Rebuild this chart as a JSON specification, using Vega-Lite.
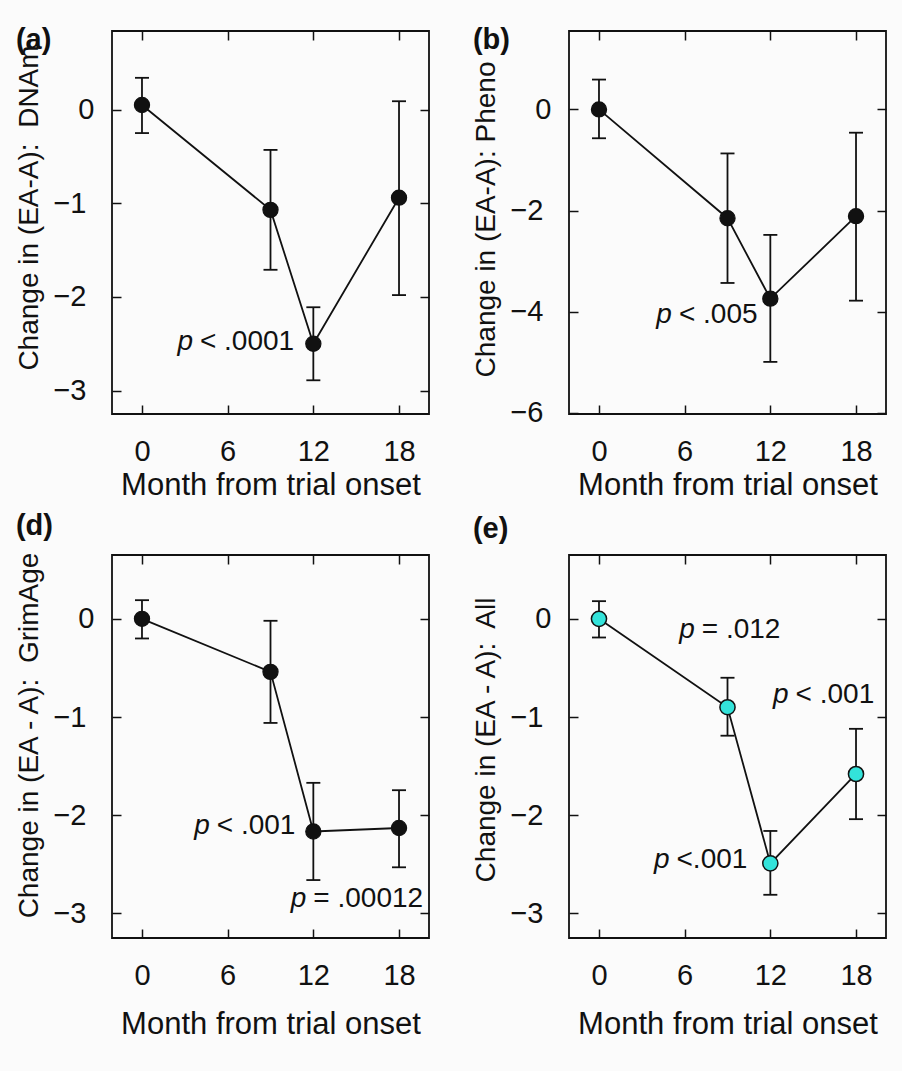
{
  "$schema": "https://vega.github.io/schema/vega-lite/v6.json",
  "background": "#fbfbfb",
  "padding": {"left": 15, "top": 25, "right": 16, "bottom": 32},
  "datasets": {
    "pts": [
      {"panel": "a", "month": 0, "value": 0.05, "lo": -0.25, "hi": 0.34},
      {"panel": "a", "month": 9, "value": -1.07, "lo": -1.71, "hi": -0.43},
      {"panel": "a", "month": 12, "value": -2.5, "lo": -2.89, "hi": -2.11},
      {"panel": "a", "month": 18, "value": -0.94, "lo": -1.98, "hi": 0.09},
      {"panel": "b", "month": 0, "value": 0.0, "lo": -0.57, "hi": 0.59},
      {"panel": "b", "month": 9, "value": -2.15, "lo": -3.43, "hi": -0.87},
      {"panel": "b", "month": 12, "value": -3.74, "lo": -4.99, "hi": -2.48},
      {"panel": "b", "month": 18, "value": -2.11, "lo": -3.78, "hi": -0.46},
      {"panel": "d", "month": 0, "value": 0.0, "lo": -0.2, "hi": 0.19},
      {"panel": "d", "month": 9, "value": -0.54, "lo": -1.06, "hi": -0.02},
      {"panel": "d", "month": 12, "value": -2.165, "lo": -2.66, "hi": -1.67},
      {"panel": "d", "month": 18, "value": -2.13, "lo": -2.53, "hi": -1.745},
      {"panel": "e", "month": 0, "value": 0.0, "lo": -0.19, "hi": 0.18},
      {"panel": "e", "month": 9, "value": -0.9, "lo": -1.19, "hi": -0.6},
      {"panel": "e", "month": 12, "value": -2.49, "lo": -2.81, "hi": -2.16},
      {"panel": "e", "month": 18, "value": -1.58, "lo": -2.04, "hi": -1.12}
    ],
    "ann": [
      {"panel": "a", "month": 4.06, "value": -2.48, "rest": "< .0001"},
      {"panel": "b", "month": 5.6, "value": -4.07, "rest": "< .005"},
      {"panel": "d", "month": 5.24, "value": -2.11, "rest": "< .001"},
      {"panel": "d", "month": 12.0, "value": -2.85, "rest": "= .00012"},
      {"panel": "e", "month": 7.2, "value": -0.11, "rest": "= .012"},
      {"panel": "e", "month": 13.77, "value": -0.78, "rest": "< .001"},
      {"panel": "e", "month": 5.43, "value": -2.46, "rest": "<.001"}
    ]
  },
  "columns": 2,
  "spacing": {"row": 9, "column": 41},
  "concat": [
    {
      "title": {"text": "(a)", "offset": -25},
      "width": 317, "height": 383,
      "layer": [
        {"data": {"name": "pts"}, "transform": [{"filter": "datum.panel === 'a'"}],
         "mark": {"type": "rule", "color": "#111", "strokeWidth": 1.8},
         "encoding": {
           "x": {"field": "month", "type": "quantitative", "scale": {"domain": [-2.1, 20.1], "nice": false, "zero": false},
                 "axis": {"orient": "bottom", "values": [0, 6, 12, 18], "title": "Month from trial onset", "labelPadding": 32, "titlePadding": 4}},
           "y": {"field": "lo", "type": "quantitative", "scale": {"domain": [-3.25, 0.84], "nice": false, "zero": false},
                 "axis": {"orient": "left", "values": [0, -1, -2, -3], "format": "d", "labelPadding": {"condition": {"test": "datum.value < 0", "value": 35}, "value": 27}, "title": "Change in (EA-A):\u00a0 DNAm", "titlePadding": 9, "titleY": 176.5}},
           "y2": {"field": "hi"}
         }},
        {"data": {"name": "pts"}, "transform": [{"filter": "datum.panel === 'a'"}],
         "mark": {"type": "tick", "orient": "horizontal", "size": 14, "thickness": 1.8, "color": "#111", "opacity": 1},
         "encoding": {
           "x": {"field": "month", "type": "quantitative", "scale": {"domain": [-2.1, 20.1], "nice": false, "zero": false},
                 "axis": {"orient": "top", "values": [0, 6, 12, 18], "labels": false, "title": null}},
           "y": {"field": "lo", "type": "quantitative", "scale": {"domain": [-3.25, 0.84], "nice": false, "zero": false},
                 "axis": {"orient": "right", "values": [0, -1, -2, -3], "labels": false, "title": null}}
         }},
        {"data": {"name": "pts"}, "transform": [{"filter": "datum.panel === 'a'"}],
         "mark": {"type": "tick", "orient": "horizontal", "size": 14, "thickness": 1.8, "color": "#111", "opacity": 1},
         "encoding": {
           "x": {"field": "month", "type": "quantitative", "scale": {"domain": [-2.1, 20.1], "nice": false, "zero": false}, "axis": null},
           "y": {"field": "hi", "type": "quantitative", "scale": {"domain": [-3.25, 0.84], "nice": false, "zero": false}, "axis": null}
         }},
        {"data": {"name": "pts"}, "transform": [{"filter": "datum.panel === 'a'"}],
         "mark": {"type": "line", "color": "#111", "strokeWidth": 1.8},
         "encoding": {
           "x": {"field": "month", "type": "quantitative", "scale": {"domain": [-2.1, 20.1], "nice": false, "zero": false}, "axis": null},
           "y": {"field": "value", "type": "quantitative", "scale": {"domain": [-3.25, 0.84], "nice": false, "zero": false}, "axis": null}
         }},
        {"data": {"name": "pts"}, "transform": [{"filter": "datum.panel === 'a'"}],
         "mark": {"type": "point", "filled": true, "size": 230, "fill": "#111", "stroke": "#111", "strokeWidth": 1.2, "opacity": 1},
         "encoding": {
           "x": {"field": "month", "type": "quantitative", "scale": {"domain": [-2.1, 20.1], "nice": false, "zero": false}, "axis": null},
           "y": {"field": "value", "type": "quantitative", "scale": {"domain": [-3.25, 0.84], "nice": false, "zero": false}, "axis": null}
         }},
        {"data": {"name": "ann"}, "transform": [{"filter": "datum.panel === 'a'"}],
         "mark": {"type": "text", "text": "p", "fontStyle": "italic", "align": "right", "baseline": "middle", "dx": -7, "font": "Liberation Sans", "fontSize": 28, "color": "#111"},
         "encoding": {
           "x": {"field": "month", "type": "quantitative", "scale": {"domain": [-2.1, 20.1], "nice": false, "zero": false}, "axis": null},
           "y": {"field": "value", "type": "quantitative", "scale": {"domain": [-3.25, 0.84], "nice": false, "zero": false}, "axis": null}
         }},
        {"data": {"name": "ann"}, "transform": [{"filter": "datum.panel === 'a'"}],
         "mark": {"type": "text", "align": "left", "baseline": "middle", "font": "Liberation Sans", "fontSize": 28, "color": "#111"},
         "encoding": {
           "x": {"field": "month", "type": "quantitative", "scale": {"domain": [-2.1, 20.1], "nice": false, "zero": false}, "axis": null},
           "y": {"field": "value", "type": "quantitative", "scale": {"domain": [-3.25, 0.84], "nice": false, "zero": false}, "axis": null},
           "text": {"field": "rest"}
         }}
      ],
      "resolve": {"axis": {"x": "independent", "y": "independent"}}
    },
    {
      "title": {"text": "(b)", "offset": -25},
      "width": 317, "height": 383,
      "layer": [
        {"data": {"name": "pts"}, "transform": [{"filter": "datum.panel === 'b'"}],
         "mark": {"type": "rule", "color": "#111", "strokeWidth": 1.8},
         "encoding": {
           "x": {"field": "month", "type": "quantitative", "scale": {"domain": [-2.1, 20.1], "nice": false, "zero": false},
                 "axis": {"orient": "bottom", "values": [0, 6, 12, 18], "title": "Month from trial onset", "labelPadding": 32, "titlePadding": 4}},
           "y": {"field": "lo", "type": "quantitative", "scale": {"domain": [-6.02, 1.55], "nice": false, "zero": false},
                 "axis": {"orient": "left", "values": [0, -2, -4, -6], "format": "d", "labelPadding": {"condition": {"test": "datum.value < 0", "value": 35}, "value": 27}, "title": "Change in (EA-A): Pheno", "titlePadding": 9, "titleY": 188}},
           "y2": {"field": "hi"}
         }},
        {"data": {"name": "pts"}, "transform": [{"filter": "datum.panel === 'b'"}],
         "mark": {"type": "tick", "orient": "horizontal", "size": 14, "thickness": 1.8, "color": "#111", "opacity": 1},
         "encoding": {
           "x": {"field": "month", "type": "quantitative", "scale": {"domain": [-2.1, 20.1], "nice": false, "zero": false},
                 "axis": {"orient": "top", "values": [0, 6, 12, 18], "labels": false, "title": null}},
           "y": {"field": "lo", "type": "quantitative", "scale": {"domain": [-6.02, 1.55], "nice": false, "zero": false},
                 "axis": {"orient": "right", "values": [0, -2, -4, -6], "labels": false, "title": null}}
         }},
        {"data": {"name": "pts"}, "transform": [{"filter": "datum.panel === 'b'"}],
         "mark": {"type": "tick", "orient": "horizontal", "size": 14, "thickness": 1.8, "color": "#111", "opacity": 1},
         "encoding": {
           "x": {"field": "month", "type": "quantitative", "scale": {"domain": [-2.1, 20.1], "nice": false, "zero": false}, "axis": null},
           "y": {"field": "hi", "type": "quantitative", "scale": {"domain": [-6.02, 1.55], "nice": false, "zero": false}, "axis": null}
         }},
        {"data": {"name": "pts"}, "transform": [{"filter": "datum.panel === 'b'"}],
         "mark": {"type": "line", "color": "#111", "strokeWidth": 1.8},
         "encoding": {
           "x": {"field": "month", "type": "quantitative", "scale": {"domain": [-2.1, 20.1], "nice": false, "zero": false}, "axis": null},
           "y": {"field": "value", "type": "quantitative", "scale": {"domain": [-6.02, 1.55], "nice": false, "zero": false}, "axis": null}
         }},
        {"data": {"name": "pts"}, "transform": [{"filter": "datum.panel === 'b'"}],
         "mark": {"type": "point", "filled": true, "size": 230, "fill": "#111", "stroke": "#111", "strokeWidth": 1.2, "opacity": 1},
         "encoding": {
           "x": {"field": "month", "type": "quantitative", "scale": {"domain": [-2.1, 20.1], "nice": false, "zero": false}, "axis": null},
           "y": {"field": "value", "type": "quantitative", "scale": {"domain": [-6.02, 1.55], "nice": false, "zero": false}, "axis": null}
         }},
        {"data": {"name": "ann"}, "transform": [{"filter": "datum.panel === 'b'"}],
         "mark": {"type": "text", "text": "p", "fontStyle": "italic", "align": "right", "baseline": "middle", "dx": -7, "font": "Liberation Sans", "fontSize": 28, "color": "#111"},
         "encoding": {
           "x": {"field": "month", "type": "quantitative", "scale": {"domain": [-2.1, 20.1], "nice": false, "zero": false}, "axis": null},
           "y": {"field": "value", "type": "quantitative", "scale": {"domain": [-6.02, 1.55], "nice": false, "zero": false}, "axis": null}
         }},
        {"data": {"name": "ann"}, "transform": [{"filter": "datum.panel === 'b'"}],
         "mark": {"type": "text", "align": "left", "baseline": "middle", "font": "Liberation Sans", "fontSize": 28, "color": "#111"},
         "encoding": {
           "x": {"field": "month", "type": "quantitative", "scale": {"domain": [-2.1, 20.1], "nice": false, "zero": false}, "axis": null},
           "y": {"field": "value", "type": "quantitative", "scale": {"domain": [-6.02, 1.55], "nice": false, "zero": false}, "axis": null},
           "text": {"field": "rest"}
         }}
      ],
      "resolve": {"axis": {"x": "independent", "y": "independent"}}
    },
    {
      "title": {"text": "(d)", "offset": 10},
      "width": 317, "height": 383,
      "layer": [
        {"data": {"name": "pts"}, "transform": [{"filter": "datum.panel === 'd'"}],
         "mark": {"type": "rule", "color": "#111", "strokeWidth": 1.8},
         "encoding": {
           "x": {"field": "month", "type": "quantitative", "scale": {"domain": [-2.1, 20.1], "nice": false, "zero": false},
                 "axis": {"orient": "bottom", "values": [0, 6, 12, 18], "title": "Month from trial onset", "labelPadding": 32, "titlePadding": 19}},
           "y": {"field": "lo", "type": "quantitative", "scale": {"domain": [-3.25, 0.65], "nice": false, "zero": false},
                 "axis": {"orient": "left", "values": [0, -1, -2, -3], "format": "d", "labelPadding": {"condition": {"test": "datum.value < 0", "value": 35}, "value": 27}, "title": "Change in (EA - A):\u00a0 GrimAge", "titlePadding": 9, "titleY": 180}},
           "y2": {"field": "hi"}
         }},
        {"data": {"name": "pts"}, "transform": [{"filter": "datum.panel === 'd'"}],
         "mark": {"type": "tick", "orient": "horizontal", "size": 14, "thickness": 1.8, "color": "#111", "opacity": 1},
         "encoding": {
           "x": {"field": "month", "type": "quantitative", "scale": {"domain": [-2.1, 20.1], "nice": false, "zero": false},
                 "axis": {"orient": "top", "values": [0, 6, 12, 18], "labels": false, "title": null}},
           "y": {"field": "lo", "type": "quantitative", "scale": {"domain": [-3.25, 0.65], "nice": false, "zero": false},
                 "axis": {"orient": "right", "values": [0, -1, -2, -3], "labels": false, "title": null}}
         }},
        {"data": {"name": "pts"}, "transform": [{"filter": "datum.panel === 'd'"}],
         "mark": {"type": "tick", "orient": "horizontal", "size": 14, "thickness": 1.8, "color": "#111", "opacity": 1},
         "encoding": {
           "x": {"field": "month", "type": "quantitative", "scale": {"domain": [-2.1, 20.1], "nice": false, "zero": false}, "axis": null},
           "y": {"field": "hi", "type": "quantitative", "scale": {"domain": [-3.25, 0.65], "nice": false, "zero": false}, "axis": null}
         }},
        {"data": {"name": "pts"}, "transform": [{"filter": "datum.panel === 'd'"}],
         "mark": {"type": "line", "color": "#111", "strokeWidth": 1.8},
         "encoding": {
           "x": {"field": "month", "type": "quantitative", "scale": {"domain": [-2.1, 20.1], "nice": false, "zero": false}, "axis": null},
           "y": {"field": "value", "type": "quantitative", "scale": {"domain": [-3.25, 0.65], "nice": false, "zero": false}, "axis": null}
         }},
        {"data": {"name": "pts"}, "transform": [{"filter": "datum.panel === 'd'"}],
         "mark": {"type": "point", "filled": true, "size": 230, "fill": "#111", "stroke": "#111", "strokeWidth": 1.2, "opacity": 1},
         "encoding": {
           "x": {"field": "month", "type": "quantitative", "scale": {"domain": [-2.1, 20.1], "nice": false, "zero": false}, "axis": null},
           "y": {"field": "value", "type": "quantitative", "scale": {"domain": [-3.25, 0.65], "nice": false, "zero": false}, "axis": null}
         }},
        {"data": {"name": "ann"}, "transform": [{"filter": "datum.panel === 'd'"}],
         "mark": {"type": "text", "text": "p", "fontStyle": "italic", "align": "right", "baseline": "middle", "dx": -7, "font": "Liberation Sans", "fontSize": 28, "color": "#111"},
         "encoding": {
           "x": {"field": "month", "type": "quantitative", "scale": {"domain": [-2.1, 20.1], "nice": false, "zero": false}, "axis": null},
           "y": {"field": "value", "type": "quantitative", "scale": {"domain": [-3.25, 0.65], "nice": false, "zero": false}, "axis": null}
         }},
        {"data": {"name": "ann"}, "transform": [{"filter": "datum.panel === 'd'"}],
         "mark": {"type": "text", "align": "left", "baseline": "middle", "font": "Liberation Sans", "fontSize": 28, "color": "#111"},
         "encoding": {
           "x": {"field": "month", "type": "quantitative", "scale": {"domain": [-2.1, 20.1], "nice": false, "zero": false}, "axis": null},
           "y": {"field": "value", "type": "quantitative", "scale": {"domain": [-3.25, 0.65], "nice": false, "zero": false}, "axis": null},
           "text": {"field": "rest"}
         }}
      ],
      "resolve": {"axis": {"x": "independent", "y": "independent"}}
    },
    {
      "title": {"text": "(e)", "offset": 10},
      "width": 317, "height": 383,
      "layer": [
        {"data": {"name": "pts"}, "transform": [{"filter": "datum.panel === 'e'"}],
         "mark": {"type": "rule", "color": "#111", "strokeWidth": 1.8},
         "encoding": {
           "x": {"field": "month", "type": "quantitative", "scale": {"domain": [-2.1, 20.1], "nice": false, "zero": false},
                 "axis": {"orient": "bottom", "values": [0, 6, 12, 18], "title": "Month from trial onset", "labelPadding": 32, "titlePadding": 19}},
           "y": {"field": "lo", "type": "quantitative", "scale": {"domain": [-3.25, 0.65], "nice": false, "zero": false},
                 "axis": {"orient": "left", "values": [0, -1, -2, -3], "format": "d", "labelPadding": {"condition": {"test": "datum.value < 0", "value": 35}, "value": 27}, "title": "Change in (EA - A):\u00a0 All", "titlePadding": 9, "titleY": 184.5}},
           "y2": {"field": "hi"}
         }},
        {"data": {"name": "pts"}, "transform": [{"filter": "datum.panel === 'e'"}],
         "mark": {"type": "tick", "orient": "horizontal", "size": 14, "thickness": 1.8, "color": "#111", "opacity": 1},
         "encoding": {
           "x": {"field": "month", "type": "quantitative", "scale": {"domain": [-2.1, 20.1], "nice": false, "zero": false},
                 "axis": {"orient": "top", "values": [0, 6, 12, 18], "labels": false, "title": null}},
           "y": {"field": "lo", "type": "quantitative", "scale": {"domain": [-3.25, 0.65], "nice": false, "zero": false},
                 "axis": {"orient": "right", "values": [0, -1, -2, -3], "labels": false, "title": null}}
         }},
        {"data": {"name": "pts"}, "transform": [{"filter": "datum.panel === 'e'"}],
         "mark": {"type": "tick", "orient": "horizontal", "size": 14, "thickness": 1.8, "color": "#111", "opacity": 1},
         "encoding": {
           "x": {"field": "month", "type": "quantitative", "scale": {"domain": [-2.1, 20.1], "nice": false, "zero": false}, "axis": null},
           "y": {"field": "hi", "type": "quantitative", "scale": {"domain": [-3.25, 0.65], "nice": false, "zero": false}, "axis": null}
         }},
        {"data": {"name": "pts"}, "transform": [{"filter": "datum.panel === 'e'"}],
         "mark": {"type": "line", "color": "#111", "strokeWidth": 1.8},
         "encoding": {
           "x": {"field": "month", "type": "quantitative", "scale": {"domain": [-2.1, 20.1], "nice": false, "zero": false}, "axis": null},
           "y": {"field": "value", "type": "quantitative", "scale": {"domain": [-3.25, 0.65], "nice": false, "zero": false}, "axis": null}
         }},
        {"data": {"name": "pts"}, "transform": [{"filter": "datum.panel === 'e'"}],
         "mark": {"type": "point", "filled": true, "size": 230, "fill": "#33e3da", "stroke": "#111", "strokeWidth": 1.5, "opacity": 1},
         "encoding": {
           "x": {"field": "month", "type": "quantitative", "scale": {"domain": [-2.1, 20.1], "nice": false, "zero": false}, "axis": null},
           "y": {"field": "value", "type": "quantitative", "scale": {"domain": [-3.25, 0.65], "nice": false, "zero": false}, "axis": null}
         }},
        {"data": {"name": "ann"}, "transform": [{"filter": "datum.panel === 'e'"}],
         "mark": {"type": "text", "text": "p", "fontStyle": "italic", "align": "right", "baseline": "middle", "dx": -7, "font": "Liberation Sans", "fontSize": 28, "color": "#111"},
         "encoding": {
           "x": {"field": "month", "type": "quantitative", "scale": {"domain": [-2.1, 20.1], "nice": false, "zero": false}, "axis": null},
           "y": {"field": "value", "type": "quantitative", "scale": {"domain": [-3.25, 0.65], "nice": false, "zero": false}, "axis": null}
         }},
        {"data": {"name": "ann"}, "transform": [{"filter": "datum.panel === 'e'"}],
         "mark": {"type": "text", "align": "left", "baseline": "middle", "font": "Liberation Sans", "fontSize": 28, "color": "#111"},
         "encoding": {
           "x": {"field": "month", "type": "quantitative", "scale": {"domain": [-2.1, 20.1], "nice": false, "zero": false}, "axis": null},
           "y": {"field": "value", "type": "quantitative", "scale": {"domain": [-3.25, 0.65], "nice": false, "zero": false}, "axis": null},
           "text": {"field": "rest"}
         }}
      ],
      "resolve": {"axis": {"x": "independent", "y": "independent"}}
    }
  ],
  "config": {
    "view": {"stroke": "#111", "strokeWidth": 1.8},
    "axis": {
      "labelFont": "Liberation Sans", "titleFont": "Liberation Sans",
      "labelColor": "#111", "titleColor": "#111", "tickColor": "#111",
      "tickWidth": 1.5, "tickSize": -9, "domain": false, "grid": false,
      "titleFontWeight": "normal", "labelFontSize": 29, "titleFontSize": 28,
      "labelOverlap": false
    },
    "axisX": {"titleFontSize": 31},
    "title": {"font": "Liberation Sans", "fontSize": 29, "fontWeight": "bold", "color": "#111", "anchor": "start", "frame": "bounds"}
  }
}
